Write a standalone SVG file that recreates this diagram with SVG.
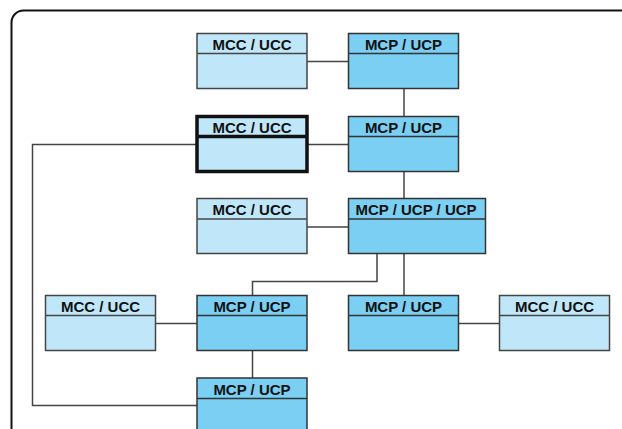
<svg xmlns="http://www.w3.org/2000/svg" width="622" height="429" viewBox="0 0 622 429">
<style>
.frame{fill:#fff;stroke:#111;stroke-width:2}
.mcc{fill:#c0e7f9;stroke:#444;stroke-width:1.5}
.mcp{fill:#7acff3;stroke:#333;stroke-width:1.5}
.thick{stroke:#111;stroke-width:3.5}
.lbl{font-family:"Liberation Sans",Arial,sans-serif;font-weight:bold;font-size:15px;fill:#111;text-anchor:middle}
.conn{fill:none;stroke:#444;stroke-width:1.5}
</style>
<rect width="622" height="429" fill="#fff"/>
<rect class="frame" x="11.5" y="10.5" width="640" height="460" rx="12"/>
<g id="connectors">
<path class="conn" d="M307 61.5H348"/>
<path class="conn" d="M404 88.5V116"/>
<path class="conn" d="M307 144.5H348"/>
<path class="conn" d="M196 144.5H32.5V405.5H197"/>
<path class="conn" d="M404 171V198"/>
<path class="conn" d="M307 227H348"/>
<path class="conn" d="M404 253.5V295"/>
<path class="conn" d="M377 253.5V281.5H252.5V295"/>
<path class="conn" d="M155.5 323.5H197"/>
<path class="conn" d="M252.5 350V378"/>
<path class="conn" d="M458 323.5H499.5"/>
</g>
<g id="mcc1">
<rect class="mcc" x="197" y="33.5" width="110" height="55"/>
<line class="mcc" x1="197" y1="53.5" x2="307" y2="53.5"/>
<text class="lbl" x="252" y="49.5">MCC / UCC</text>
</g>
<g id="mcp1">
<rect class="mcp" x="348.5" y="33.5" width="110" height="55"/>
<line class="mcp" x1="348.5" y1="53.5" x2="458.5" y2="53.5"/>
<text class="lbl" x="403.5" y="49.5">MCP / UCP</text>
</g>
<g id="mcc2">
<rect class="mcc thick" x="197" y="116.5" width="110" height="55"/>
<line class="mcc thick" x1="197" y1="136.5" x2="307" y2="136.5"/>
<text class="lbl" x="252" y="132.5">MCC / UCC</text>
</g>
<g id="mcp2">
<rect class="mcp" x="348.5" y="116.5" width="110" height="55"/>
<line class="mcp" x1="348.5" y1="136.5" x2="458.5" y2="136.5"/>
<text class="lbl" x="403.5" y="132.5">MCP / UCP</text>
</g>
<g id="mcc3">
<rect class="mcc" x="197" y="198.5" width="110" height="55"/>
<line class="mcc" x1="197" y1="219" x2="307" y2="219"/>
<text class="lbl" x="252" y="215">MCC / UCC</text>
</g>
<g id="mcp3">
<rect class="mcp" x="348.5" y="198.5" width="137" height="55"/>
<line class="mcp" x1="348.5" y1="219" x2="485.5" y2="219"/>
<text class="lbl" x="416" y="215">MCP / UCP / UCP</text>
</g>
<g id="mcc4">
<rect class="mcc" x="45.5" y="295.5" width="110" height="55"/>
<line class="mcc" x1="45.5" y1="315.5" x2="155.5" y2="315.5"/>
<text class="lbl" x="100.5" y="311.5">MCC / UCC</text>
</g>
<g id="mcp4">
<rect class="mcp" x="197" y="295.5" width="110" height="55"/>
<line class="mcp" x1="197" y1="315.5" x2="307" y2="315.5"/>
<text class="lbl" x="252" y="311.5">MCP / UCP</text>
</g>
<g id="mcp5">
<rect class="mcp" x="348.5" y="295.5" width="110" height="55"/>
<line class="mcp" x1="348.5" y1="315.5" x2="458.5" y2="315.5"/>
<text class="lbl" x="403.5" y="311.5">MCP / UCP</text>
</g>
<g id="mcc5">
<rect class="mcc" x="499.5" y="295.5" width="110" height="55"/>
<line class="mcc" x1="499.5" y1="315.5" x2="609.5" y2="315.5"/>
<text class="lbl" x="554.5" y="311.5">MCC / UCC</text>
</g>
<g id="mcp6">
<rect class="mcp" x="197" y="378" width="110" height="70"/>
<line class="mcp" x1="197" y1="398.5" x2="307" y2="398.5"/>
<text class="lbl" x="252" y="394.5">MCP / UCP</text>
</g>
</svg>
